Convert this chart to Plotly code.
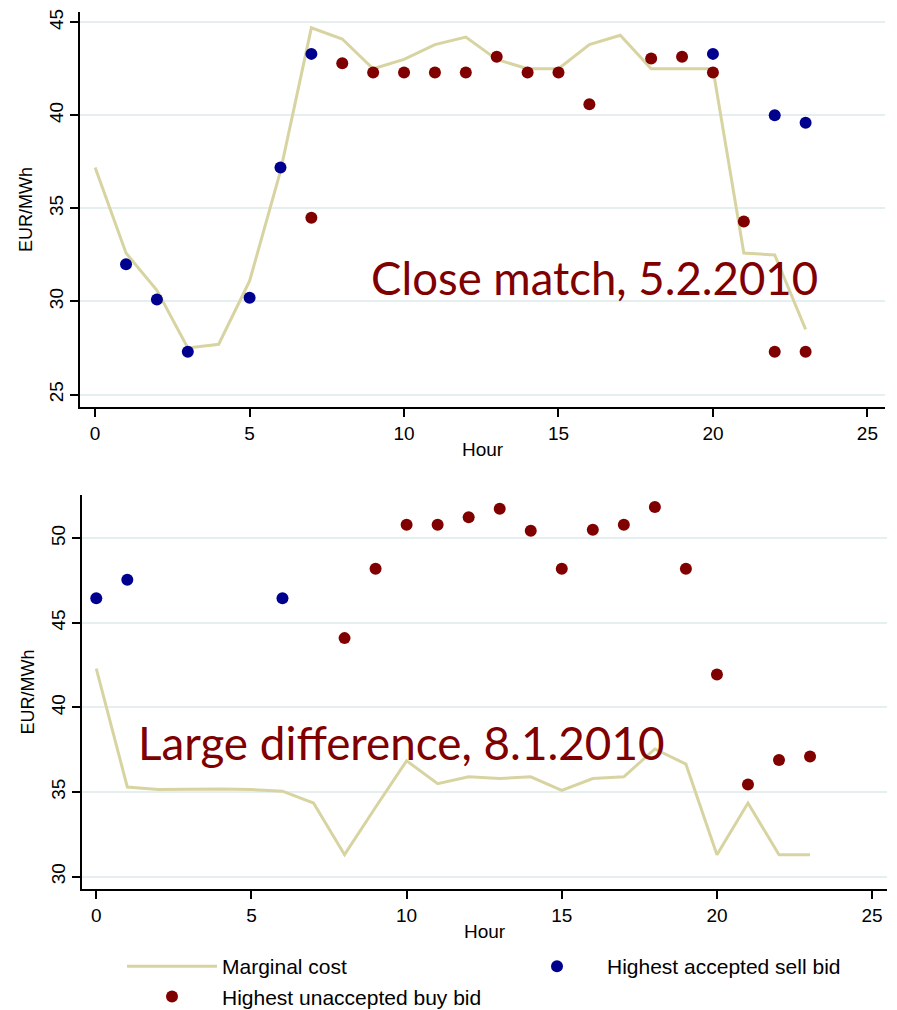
import plotly.graph_objects as go

hours = list(range(24))

# Top panel: 5.2.2010
mc_top = [37.2, 32.6, 30.6, 27.5, 27.7, 31.1, 37.0, 44.7, 44.1, 42.5, 43.0, 43.8,
          44.2, 43.0, 42.5, 42.5, 43.8, 44.3, 42.5, 42.5, 42.5, 32.6, 32.5, 28.5]
sell_top_h = [1, 2, 3, 5, 6, 7, 20, 22, 23]
sell_top = [32.0, 30.1, 27.3, 30.2, 37.2, 43.3, 43.3, 40.0, 39.6]
buy_top_h = [7, 8, 9, 10, 11, 12, 13, 14, 15, 16, 18, 19, 20, 21, 22, 23]
buy_top = [34.5, 42.8, 42.3, 42.3, 42.3, 42.3, 43.15, 42.3, 42.3, 40.6, 43.05, 43.15,
           42.3, 34.3, 27.3, 27.3]

# Bottom panel: 8.1.2010
mc_bot = [42.3, 35.3, 35.15, 35.18, 35.18, 35.15, 35.05, 34.35, 31.3, 34.1, 36.85, 35.5,
          35.9, 35.8, 35.9, 35.1, 35.8, 35.9, 37.55, 36.65, 31.3, 34.35, 31.3, 31.3]
sell_bot_h = [0, 1, 6]
sell_bot = [46.45, 47.55, 46.45]
buy_bot_h = [8, 9, 10, 11, 12, 13, 14, 15, 16, 17, 18, 19, 20, 21, 22, 23]
buy_bot = [44.1, 48.2, 50.8, 50.8, 51.25, 51.75, 50.45, 48.2, 50.5, 50.8, 51.85, 48.2,
           41.95, 35.45, 36.9, 37.1]

x_ticks = [0, 5, 10, 15, 20, 25]
y_ticks_top = [25, 30, 35, 40, 45]
y_ticks_bot = [30, 35, 40, 45, 50]

names = ["Marginal cost", "Highest accepted sell bid", "Highest unaccepted buy bid"]
LINE_C = "#d8d4a2"
BLUE = "#00008f"
RED = "#800000"
FONT = "Liberation Sans"

fig = go.Figure()
for (mc, sh, sv, bh, bv, xa, ya, show) in [
    (mc_top, sell_top_h, sell_top, buy_top_h, buy_top, "x", "y", True),
    (mc_bot, sell_bot_h, sell_bot, buy_bot_h, buy_bot, "x2", "y2", False),
]:
    fig.add_trace(go.Scatter(x=hours, y=mc, mode="lines", name=names[0],
                             line=dict(color=LINE_C, width=3), xaxis=xa, yaxis=ya,
                             showlegend=show))
    fig.add_trace(go.Scatter(x=sh, y=sv, mode="markers", name=names[1],
                             marker=dict(color=BLUE, size=12), xaxis=xa, yaxis=ya,
                             showlegend=show))
    fig.add_trace(go.Scatter(x=bh, y=bv, mode="markers", name=names[2],
                             marker=dict(color=RED, size=12), xaxis=xa, yaxis=ya,
                             showlegend=show))

W, H = 897, 1010
def px_x(a, b):
    return [a / W, b / W]
def px_y(top, bottom):
    return [(H - bottom) / H, (H - top) / H]

xcommon = dict(tickvals=x_ticks, ticks="outside", ticklen=8, tickwidth=1.5, tickcolor="black",
               showline=True, linecolor="black", linewidth=1.5, showgrid=False, zeroline=False,
               automargin=False,
               tickfont=dict(family=FONT, size=19, color="black"),
               title=dict(text="Hour", font=dict(family=FONT, size=19, color="black"), standoff=0))
ycommon = dict(ticks="outside", ticklen=8, tickwidth=1.5, tickcolor="black", tickangle=-90,
               showline=True, linecolor="black", linewidth=1.5, showgrid=True,
               gridcolor="#e6eff0", gridwidth=1.5, zeroline=False, automargin=False,
               tickfont=dict(family=FONT, size=19, color="black"),
               title=dict(text="EUR/MWh", font=dict(family=FONT, size=18, color="black"), standoff=8))

fig.update_layout(
    width=W, height=H, margin=dict(l=0, r=0, t=0, b=0, autoexpand=False),
    paper_bgcolor="white", plot_bgcolor="white",
    xaxis=dict(domain=px_x(80, 885), range=[-0.49, 25.57], anchor="y", **xcommon),
    yaxis=dict(domain=px_y(12, 407), range=[24.33, 45.55], tickvals=y_ticks_top, anchor="x", **ycommon),
    xaxis2=dict(domain=px_x(82, 887), range=[-0.46, 25.48], anchor="y2", **xcommon),
    yaxis2=dict(domain=px_y(495, 889), range=[29.27, 52.56], tickvals=y_ticks_bot, anchor="x2", **ycommon),
    legend=dict(orientation="h", x=122 / W, y=(H - 946) / H, xanchor="left", yanchor="top",
                entrywidth=280, entrywidthmode="pixels", itemwidth=90,
                font=dict(family=FONT, size=21, color="black"), tracegroupgap=0,
                bgcolor="rgba(0,0,0,0)"),
    showlegend=True,
)

fig.add_annotation(text="Close match, 5.2.2010", x=369 / W, y=(H - 277) / H, xref="paper", yref="paper",
                   xanchor="left", yanchor="middle", showarrow=False,
                   font=dict(family="Lato", size=45.5, color=RED))
fig.add_annotation(text="Large difference, 8.1.2010", x=136 / W, y=(H - 742) / H, xref="paper", yref="paper",
                   xanchor="left", yanchor="middle", showarrow=False,
                   font=dict(family="Lato", size=45.8, color=RED))

fig.write_html("out.html", config={"displayModeBar": False},
               post_script="document.body.style.margin='0';document.body.style.overflow='hidden';")
